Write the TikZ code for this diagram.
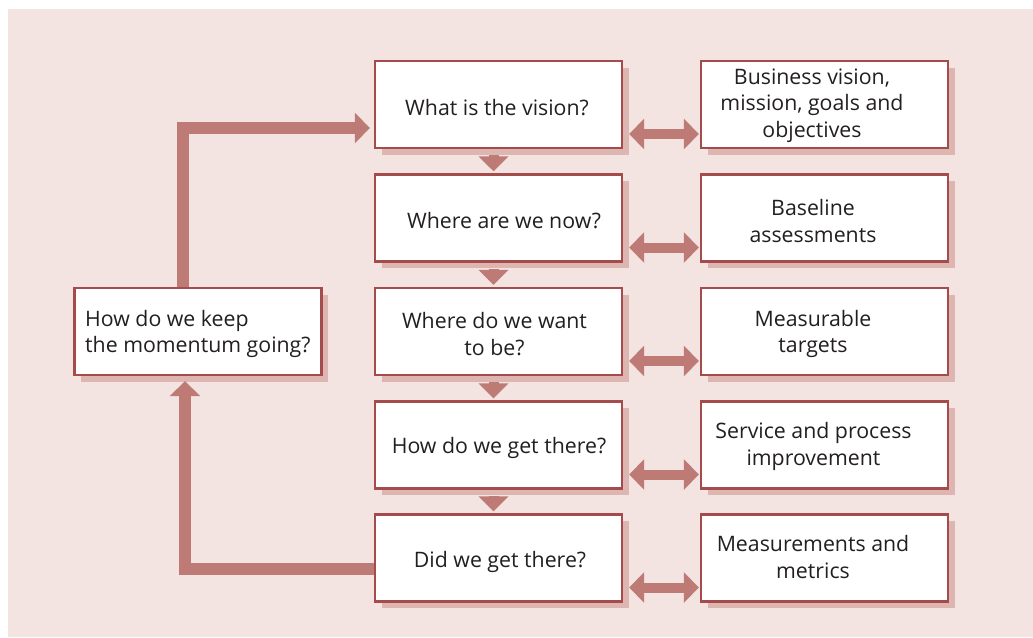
\documentclass[tikz,border=0pt]{standalone}
\usepackage{fontspec}
\setmainfont{Open Sans}
\usetikzlibrary{arrows.meta,shadows}
\definecolor{bgpink}{HTML}{F3E4E1}
\definecolor{boxline}{HTML}{A54B4B}
\definecolor{shadowc}{HTML}{DDB5B1}
\definecolor{arrowc}{HTML}{BE7B76}
\definecolor{textc}{HTML}{231F20}
\tikzset{
  qbox/.style={rectangle, draw=boxline, line width=2.4pt, fill=white,
    minimum width=247pt, minimum height=87pt, inner sep=0pt,
    drop shadow={shadow xshift=6.5pt, shadow yshift=-6.5pt, fill=shadowc, opacity=1}},
  txt/.style={font=\fontsize{21.3}{26.5}\selectfont, text=textc, align=center, inner sep=0pt},
  loopar/.style={draw=arrowc, line width=12pt, line join=miter,
    -{Triangle[width=30pt,length=15pt]}},
  downar/.style={draw=arrowc, line width=10pt,
    -{Triangle[width=29pt,length=15pt]}},
  dblar/.style={draw=arrowc, line width=10pt,
    {Triangle[width=30pt,length=15pt]}-{Triangle[width=30pt,length=15pt]}},
}
\begin{document}
\begin{tikzpicture}[x=1pt,y=-1pt]
\fill[white] (0,0) rectangle (1033,637);
\fill[bgpink] (8,9) rectangle (1033,637);
\useasboundingbox (0,0) rectangle (1033,637);
% middle column
\node[qbox] (m1) at (498.5,104.5) {};
\node[qbox] (m2) at (498.5,218) {};
\node[qbox] (m3) at (498.5,331.5) {};
\node[qbox] (m4) at (498.5,445) {};
\node[qbox] (m5) at (498.5,558) {};
% right column
\node[qbox] (r1) at (824.5,104.5) {};
\node[qbox] (r2) at (824.5,218) {};
\node[qbox] (r3) at (824.5,331.5) {};
\node[qbox] (r4) at (824.5,445) {};
\node[qbox] (r5) at (824.5,558) {};
% left box
\node[qbox] (lb) at (198,331.5) {};
% texts
\node[txt] (tm1) at (497,107.5) {What is the vision?};
\node[txt] (tm2) at (504,220.5) {Where are we now?};
\node[txt] (tm3) at (494.5,334) {Where do we want\\to be?};
\node[txt] (tm4) at (499,447.5) {How do we get there?};
\node[txt] (tm5) at (500,561.5) {Did we get there?};
\node[txt] (tr1) at (812,105.5) {Business vision,\\mission, goals and\\objectives};
\node[txt] (tr2) at (813,221) {Baseline\\assessments};
\node[txt] (tr3) at (813,334) {Measurable\\targets};
\node[txt] (tr4) at (813.5,446.5) {Service and process\\improvement};
\node[txt] (tr5) at (813,557) {Measurements and\\metrics};
\node[txt, align=left, anchor=west] (tl) at (85,334) {How do we keep\\the momentum going?};
% loop arrows
\draw[loopar] ([xshift=-15pt]lb.north) |- ([xshift=-4pt,yshift=-23.5pt]m1.west);
\draw[loopar] ([yshift=-10.5pt]m5.west) -| ([xshift=-13pt,yshift=-5pt]lb.south);
% down arrows
\foreach \a/\b in {m1/m2,m2/m3,m3/m4,m4/m5}{
  \draw[downar] ([xshift=-5pt,yshift=-6pt]\a.south) -- ([xshift=-5pt,yshift=2pt]\b.north);
}
% double arrows
\foreach \i in {1,...,5}{
  \draw[dblar] ([xshift=6pt,yshift=-29.5pt]m\i.east) -- ([xshift=-1pt,yshift=-29.5pt]r\i.west);
}
\end{tikzpicture}
\end{document}
